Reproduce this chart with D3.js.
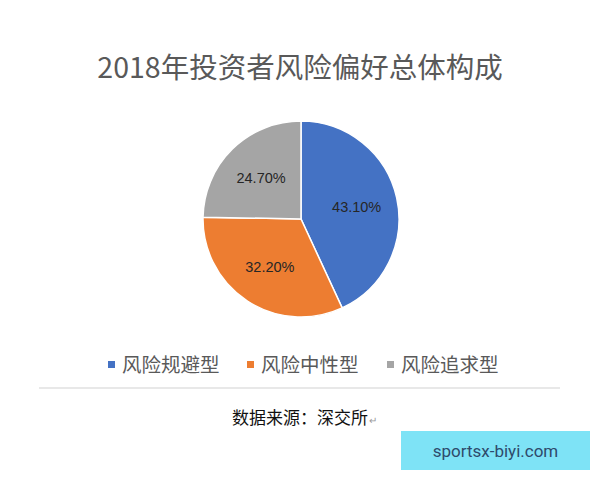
<!DOCTYPE html>
<html><head><meta charset="utf-8">
<script src="https://cdn.jsdelivr.net/npm/d3@7"></script>
<style>body{margin:0;background:#fff}svg{display:block}</style>
</head><body>
<svg id="c" width="600" height="480"></svg>
<script>
const categories = ["风险规避型", "风险中性型", "风险追求型"];
const values = [43.1, 32.2, 24.7];
const labels = ["43.10%", "32.20%", "24.70%"];
const colors = ["#4472c4", "#ed7d31", "#a5a5a5"];
const title = "2018年投资者风险偏好总体构成";
const source = "数据来源：深交所";
const watermark = "sportsx-biyi.com";

const svg = d3.select("#c");
const font = "'Noto Sans CJK SC', 'Noto Sans', sans-serif";

svg.append("text").attr("x", 300).attr("y", 78).attr("text-anchor", "middle")
  .attr("font-family", font).attr("font-size", 28.5).attr("fill", "#595959").text(title);

const cx = 301, cy = 219, r = 98;
const pie = d3.pie().sort(null).value(d => d);
const arcs = pie(values);
const arc = d3.arc().innerRadius(0).outerRadius(r);
const labelArc = d3.arc().innerRadius(57).outerRadius(57);
const g = svg.append("g").attr("transform", `translate(${cx},${cy})`);
g.selectAll("path").data(arcs).join("path")
  .attr("d", arc).attr("fill", (d, i) => colors[i])
  .attr("stroke", "#fff").attr("stroke-width", 1.5);
g.selectAll("text").data(arcs).join("text")
  .attr("transform", d => `translate(${labelArc.centroid(d)})`)
  .attr("text-anchor", "middle").attr("dy", "0.35em")
  .attr("font-family", "'Liberation Sans', Arial, sans-serif").attr("font-size", 14.5)
  .attr("fill", "#262626").text((d, i) => labels[i]);

const legendX = [108, 247, 387];
const lg = svg.append("g");
categories.forEach((c, i) => {
  lg.append("rect").attr("x", legendX[i]).attr("y", 361).attr("width", 7).attr("height", 7).attr("fill", colors[i]);
  lg.append("text").attr("x", legendX[i] + 14).attr("y", 372)
    .attr("font-family", font).attr("font-size", 19.5).attr("fill", "#595959").text(c);
});

svg.append("rect").attr("x", 39).attr("y", 387).attr("width", 521).attr("height", 2).attr("fill", "#e8e8e8");

svg.append("text").attr("x", 232).attr("y", 424)
  .attr("font-family", font).attr("font-size", 17).attr("fill", "#111").text(source)
  .append("tspan").attr("font-size", 10).attr("fill", "#999").attr("dx", 1).text("↵");

svg.append("rect").attr("x", 401).attr("y", 431).attr("width", 189).attr("height", 39).attr("fill", "#7ee3f6");
svg.append("text").attr("x", 495.5).attr("y", 457).attr("text-anchor", "middle")
  .attr("font-family", "Roboto, 'Noto Sans', sans-serif").attr("font-size", 17).attr("fill", "#2e4a6b").text(watermark);
</script>
</body></html>
